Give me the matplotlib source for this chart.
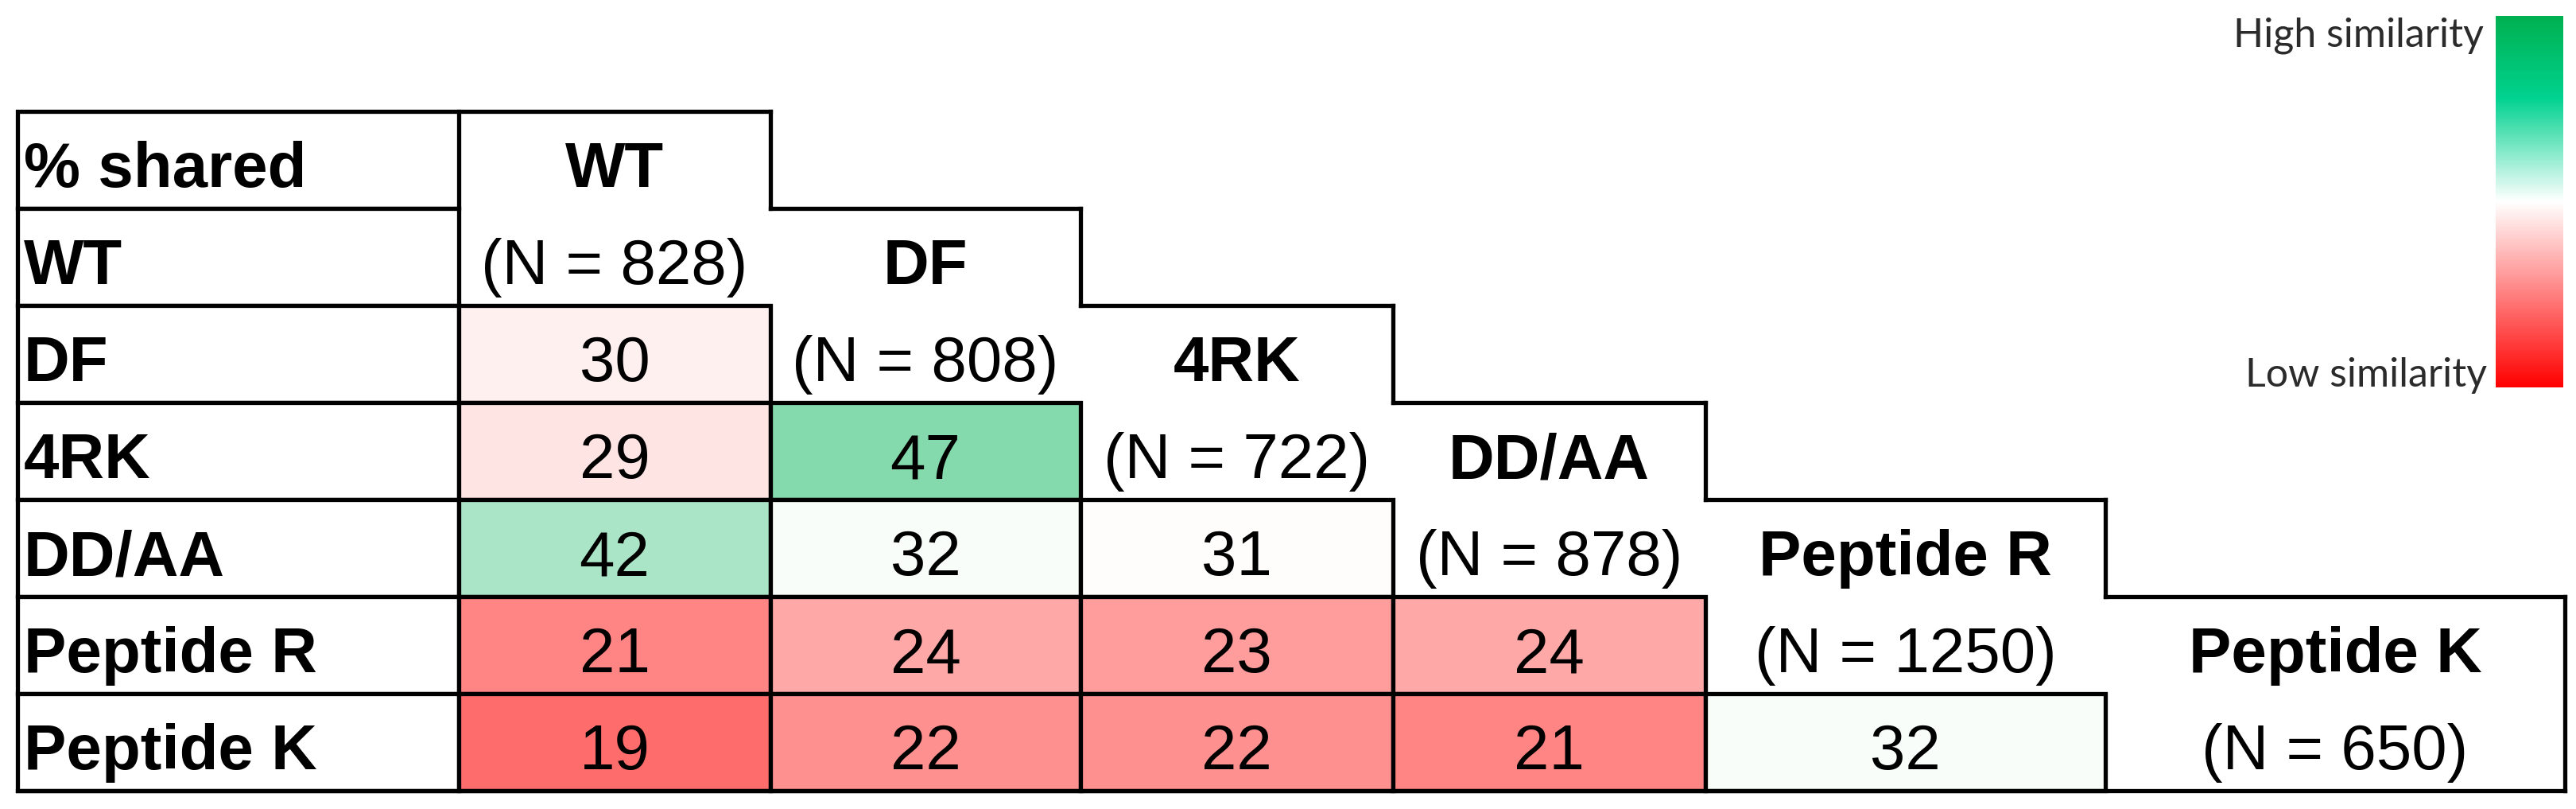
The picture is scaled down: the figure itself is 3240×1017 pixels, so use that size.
import matplotlib
matplotlib.use('Agg')
import matplotlib.pyplot as plt
import matplotlib.cm as cm
from matplotlib.colors import LinearSegmentedColormap, TwoSlopeNorm
from matplotlib.patches import Rectangle

plt.rcParams['font.family'] = ['Liberation Sans', 'DejaVu Sans']

# samples compared and number of identifications in each
samples = ['WT', 'DF', '4RK', 'DD/AA', 'Peptide R', 'Peptide K']
n_ids = [828, 808, 722, 878, 1250, 650]

# % shared, lower triangle: row sample vs. each earlier sample
shared = [
    [],
    [30],
    [29, 47],
    [42, 32, 31],
    [21, 24, 23, 24],
    [19, 22, 22, 21, 32],
]

corner_label = '% shared'
legend_high = 'High similarity'
legend_low = 'Low similarity'

# table layout (pixels)
col_edges = [22, 577, 969, 1359, 1752, 2145, 2648, 3226]
row_top = 140
row_h = 122
n_rows = len(samples) + 1
row_edges = [row_top + i * row_h for i in range(n_rows + 1)]
base_frac = 0.78
fs = 57.5
lw = 3.8

cell_cmap = LinearSegmentedColormap.from_list('sim', ['#FF0000', '#FFFFFF', '#00B056'])
norm = TwoSlopeNorm(vmin=10, vcenter=31.2, vmax=64)

fig = plt.figure(figsize=(32.4, 10.17), dpi=100)
ax = fig.add_axes([0, 0, 1, 1])
ax.set_xlim(0, 3240)
ax.set_ylim(1017, 0)
ax.axis('off')

def line(x0, y0, x1, y1):
    ax.plot([x0, x1], [y0, y1], color='black', lw=lw, solid_capstyle='projecting', zorder=3)

# first column: row labels, every row boxed
labels = [corner_label] + samples
for i, name in enumerate(labels):
    ax.add_patch(Rectangle((col_edges[0], row_edges[i]), col_edges[1] - col_edges[0], row_h,
                           facecolor='white', edgecolor='black', lw=lw, joinstyle='miter', zorder=2))
    ax.text(col_edges[0] + 8, row_edges[i] + base_frac * row_h, name, ha='left', va='baseline',
            fontsize=fs, fontweight='bold', zorder=4)

# colored cells
for a, vals in enumerate(shared):
    for b, v in enumerate(vals):
        x0 = col_edges[b + 1]
        w = col_edges[b + 2] - x0
        y0 = row_edges[a + 1]
        ax.add_patch(Rectangle((x0, y0), w, row_h, facecolor=cell_cmap(norm(v)),
                               edgecolor='black', lw=lw, joinstyle='miter', zorder=2))
        ax.text(x0 + w / 2, y0 + base_frac * row_h, str(v), ha='center', va='baseline',
                fontsize=fs, zorder=4)

# column headers with N, staircase outline
for j, name in enumerate(samples):
    xl, xr = col_edges[j + 1], col_edges[j + 2]
    cx = (xl + xr) / 2
    ax.text(cx, row_edges[j] + base_frac * row_h, name, ha='center', va='baseline',
            fontsize=fs, fontweight='bold', zorder=4)
    ax.text(cx, row_edges[j + 1] + base_frac * row_h, f'(N = {n_ids[j]})', ha='center',
            va='baseline', fontsize=fs, zorder=4)
    line(xl, row_edges[j], xr, row_edges[j])
    bottom = row_edges[j + 1] if j < len(samples) - 1 else row_edges[-1]
    line(xr, row_edges[j], xr, bottom)

line(col_edges[0], row_edges[-1], col_edges[-1], row_edges[-1])

# similarity legend bar
legend_cmap = LinearSegmentedColormap.from_list(
    'legend', [(0, '#FF0000'), (0.5, '#FFFFFF'), (0.78, '#00D28F'), (1, '#00B050')])
cax = fig.add_axes([3139 / 3240, 1 - 487 / 1017, 85 / 3240, 467 / 1017])
cb = fig.colorbar(cm.ScalarMappable(cmap=legend_cmap), cax=cax)
cb.set_ticks([])
cb.outline.set_visible(False)

fig.text(3124 / 3240, 1 - 45 / 1017, legend_high, ha='right', va='center', fontsize=36,
         family=['Lato', 'DejaVu Sans'], color='#2b2b2b')
fig.text(3128 / 3240, 1 - 472 / 1017, legend_low, ha='right', va='center', fontsize=36,
         family=['Lato', 'DejaVu Sans'], color='#2b2b2b')

fig.savefig('out.png', dpi=100)
